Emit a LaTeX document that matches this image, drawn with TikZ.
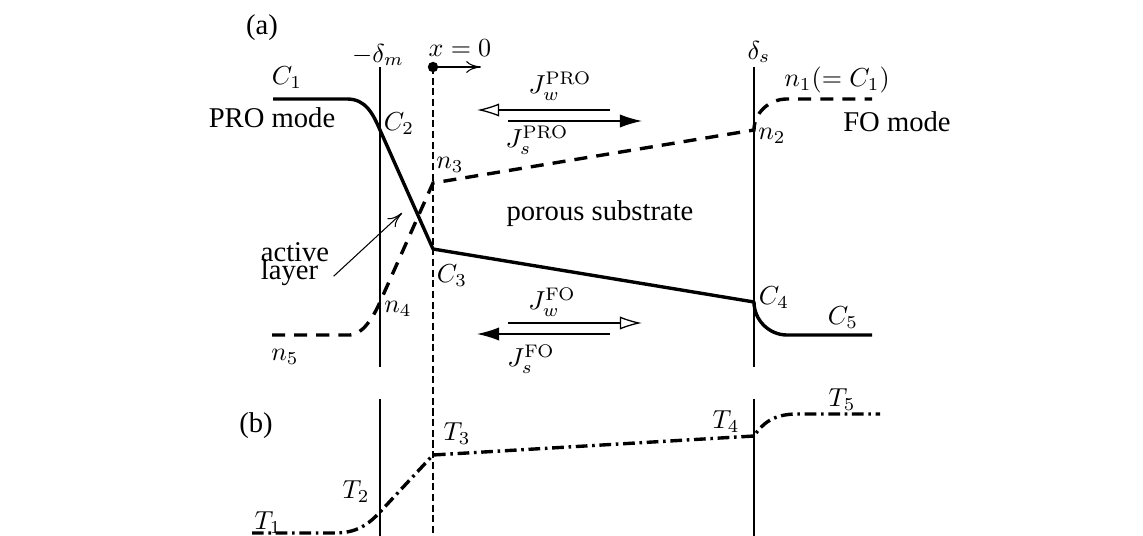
\documentclass[tikz,border=0pt]{standalone}
\usepackage[no-math]{fontspec}
\setmainfont{Liberation Serif}
\usepackage{amsmath}
\usetikzlibrary{arrows.meta}

\begin{document}
\begin{tikzpicture}[
    x=0.0135cm, y=-0.0135cm,
    Cline/.style={line width=1.3pt, line join=round},
    nline/.style={line width=1.3pt, dash pattern=on 5pt off 3.5pt},
    Tline/.style={line width=1.3pt, dash pattern=on 4.5pt off 1.8pt on 1pt off 1.8pt},
    wall/.style={line width=0.45pt},
    orig/.style={line width=0.45pt, dash pattern=on 2.7pt off 1.4pt},
    Wflux/.style={line width=0.5pt, -{Latex[open,length=3mm,width=1.8mm]}},
    Sflux/.style={line width=0.5pt, -{Latex[length=3mm,width=1.8mm]}},
    ptr/.style={line width=0.4pt, -{To[length=2mm,width=1.6mm]}},
    txt/.style={font=\fontsize{11}{13}\selectfont, inner sep=0pt},
    mlbl/.style={inner sep=0pt},
]
\useasboundingbox (0,0) rectangle (1143,536);
\coordinate (C2) at (380,130);
\coordinate (C3) at (433,249);
\coordinate (C4) at (754,302);
\coordinate (n2) at (754,130);
\coordinate (n3) at (433,183);
\coordinate (n4) at (380,302);
\coordinate (T2) at (380,512);
\coordinate (T3) at (433,455);
\coordinate (T4) at (754,436);
\draw[wall] (380,67) -- (380,367);
\draw[wall] (380,399) -- (380,536);
\draw[wall] (754,67) -- (754,367);
\draw[wall] (754,399) -- (754,536);
\draw[orig] (433,67) -- (433,536);
\fill (433,67) circle (2pt);
\coordinate (xdir) at (481,67);
\draw[ptr] (433,67) -- (xdir);
\draw[Cline] (273,99) -- (347,99) .. controls (366,99) and (373,114) .. (C2)
    -- (C3) -- (C4) .. controls (754,320) and (769,335) .. (787,335) -- (872,335);
\draw[nline] (272,335) -- (350,335) .. controls (362,335) and (373,318) .. (n4)
    -- (n3) -- (n2) .. controls (754,113) and (769,99) .. (787,99) -- (872,99);
\draw[Tline] (252,533) -- (335,533) .. controls (356,533) and (368,525) .. (T2)
    -- (T3) -- (T4) .. controls (762,424) and (773,414) .. (797,414) -- (880,414);
\coordinate (JwPa) at (610,110);
\coordinate (JwPb) at (477,110);
\coordinate (JsPa) at (508,121);
\coordinate (JsPb) at (642,121);
\coordinate (JwFa) at (508,323);
\coordinate (JwFb) at (642,323);
\coordinate (JsFa) at (610,334);
\coordinate (JsFb) at (477,334);
\draw[Wflux] (JwPa) -- (JwPb);
\draw[Sflux] (JsPa) -- (JsPb);
\draw[Wflux] (JwFa) -- (JwFb);
\draw[Sflux] (JsFa) -- (JsFb);
\node[txt] (lbla) at (262,28) {(a)};
\node[txt] (lblb) at (256,426) {(b)};
\node[mlbl] (dm) at (378,55) {$-\delta_m$};
\node[mlbl] (x0) at (460,48) {$x=0$};
\node[mlbl] (ds) at (759,52) {$\delta_s$};
\node[mlbl] (lC1) at (287,78) {$C_1$};
\node[txt] (pro) at (272,118) {PRO mode};
\node[mlbl] (lC2) at (399,124) {$C_2$};
\node[mlbl] (ln3) at (450,165) {$n_3$};
\node[mlbl] (JwP) at (560,86) {$J_w^{\mathrm{PRO}}$};
\node[mlbl] (JsP) at (537,140) {$J_s^{\mathrm{PRO}}$};
\node[mlbl] (ln1) at (837,80) {$n_1(=C_1)$};
\node[txt] (fo) at (897,122) {FO mode};
\node[mlbl] (ln2) at (772,136) {$n_2$};
\node[txt] (sub) at (600,214) {porous substrate};
\node[txt, align=left] (act) at (295,264) {active\\[-6pt]layer};
\coordinate (actTip) at (402,213);
\draw[ptr] ([shift={(4,-10)}]act.south east) -- (actTip);
\node[mlbl] (lC3) at (452,276) {$C_3$};
\node[mlbl] (ln4) at (398,309) {$n_4$};
\node[mlbl] (lC4) at (774,298) {$C_4$};
\node[mlbl] (lC5) at (843,318) {$C_5$};
\node[mlbl] (ln5) at (285,357) {$n_5$};
\node[mlbl] (JwF) at (552,302) {$J_w^{\mathrm{FO}}$};
\node[mlbl] (JsF) at (531,359) {$J_s^{\mathrm{FO}}$};
\node[mlbl] (lT1) at (268,523) {$T_1$};
\node[mlbl] (lT2) at (356,492) {$T_2$};
\node[mlbl] (lT3) at (457,434) {$T_3$};
\node[mlbl] (lT4) at (726,422) {$T_4$};
\node[mlbl] (lT5) at (842,400) {$T_5$};
\end{tikzpicture}
\end{document}
